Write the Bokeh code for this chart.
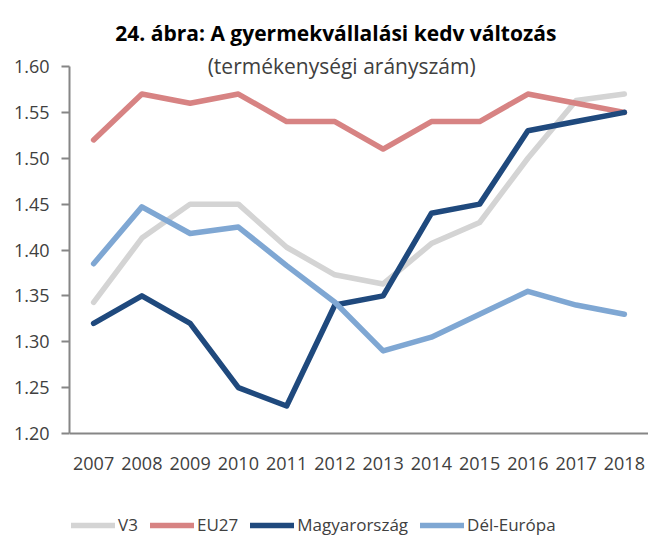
from bokeh.plotting import figure
from bokeh.models import Legend, LegendItem, Label, FixedTicker, Range1d, NumeralTickFormatter
from bokeh.embed import file_html
from bokeh.resources import INLINE

years = list(range(2007, 2019))
v3 = [1.343, 1.413, 1.45, 1.45, 1.403, 1.373, 1.363, 1.407, 1.43, 1.50, 1.563, 1.57]
eu27 = [1.52, 1.57, 1.56, 1.57, 1.54, 1.54, 1.51, 1.54, 1.54, 1.57, 1.56, 1.55]
hu = [1.32, 1.35, 1.32, 1.25, 1.23, 1.34, 1.35, 1.44, 1.45, 1.53, 1.54, 1.55]
south = [1.385, 1.447, 1.418, 1.425, 1.383, 1.343, 1.29, 1.305, 1.33, 1.355, 1.34, 1.33]
names = ["V3", "EU27", "Magyarország", "Dél-Európa"]
colors = ["#d4d4d4", "#d78383", "#1f497d", "#7fa7d3"]
yticks = [1.20, 1.25, 1.30, 1.35, 1.40, 1.45, 1.50, 1.55, 1.60]
title_text = "24. ábra: A gyermekvállalási kedv változás"
subtitle_text = "(termékenységi arányszám)"

Y0, Y1 = 1.20, 1.60
PLOT_H = 367          # pixel height of the 1.20..1.60 span
TOP_PAD = 66          # pixels above 1.60 used for titles
BOTTOM_PAD = 103      # pixels below 1.20 used for tick labels and legend
UNIT = (Y1 - Y0) / PLOT_H

FONT = "Open Sans"
p = figure(frame_width=579, frame_height=PLOT_H + TOP_PAD + BOTTOM_PAD, output_backend="svg",
           toolbar_location=None,
           x_range=Range1d(2006.5, 2018.5),
           y_range=Range1d(Y0 - BOTTOM_PAD * UNIT, Y1 + TOP_PAD * UNIT),
           min_border_left=69, min_border_right=0, min_border_top=0, min_border_bottom=0)
p.title = None
p.outline_line_color = None
p.grid.visible = False
p.background_fill_color = "white"

renderers = []
for ys, c in zip([v3, eu27, hu, south], colors):
    r = p.line(years, ys, line_color=c, line_width=5.5, line_join="round", line_cap="round")
    renderers.append(r)

p.xaxis.fixed_location = Y0
p.xaxis.ticker = FixedTicker(ticks=years)
p.xaxis.major_tick_line_color = None
p.xaxis.minor_tick_line_color = None
p.xaxis.major_label_standoff = 17
p.xaxis.axis_line_color = "#868686"
p.xaxis.axis_line_width = 2
p.xaxis.major_label_text_font = FONT
p.xaxis.major_label_text_font_size = "18px"
p.xaxis.major_label_text_color = "#404040"

p.yaxis.bounds = (Y0, Y1)
p.yaxis.ticker = FixedTicker(ticks=yticks)
p.yaxis.formatter = NumeralTickFormatter(format="0.00")
p.yaxis.minor_tick_line_color = None
p.yaxis.major_tick_in = 0
p.yaxis.major_tick_out = 8
p.yaxis.major_tick_line_color = "#868686"
p.yaxis.major_tick_line_width = 2
p.yaxis.axis_line_color = "#868686"
p.yaxis.axis_line_width = 2
p.yaxis.major_label_standoff = 12
p.yaxis.major_label_text_font = FONT
p.yaxis.major_label_text_font_size = "18px"
p.yaxis.major_label_text_color = "#404040"

legend = Legend(items=[LegendItem(label=n, renderers=[r]) for n, r in zip(names, renderers)],
                orientation="horizontal", location=(2, 0),
                glyph_width=44, glyph_height=20, label_standoff=3, spacing=12,
                label_text_font=FONT, label_text_font_size="17px", label_text_color="#404040",
                border_line_color=None, background_fill_alpha=0, padding=2, margin=0)
p.add_layout(legend, "center")

p.add_layout(Label(x=2012.02, y=Y1 + 34 * UNIT, text=title_text, text_font=FONT,
                   text_font_size="21px", text_font_style="bold", text_color="#000000",
                   text_align="center", text_baseline="alphabetic"))
p.add_layout(Label(x=2012.14, y=Y1 + 1 * UNIT, text=subtitle_text, text_font=FONT,
                   text_font_size="21px", text_color="#404040", text_align="center",
                   text_baseline="alphabetic"))

open("out.html", "w").write(file_html(p, INLINE))
